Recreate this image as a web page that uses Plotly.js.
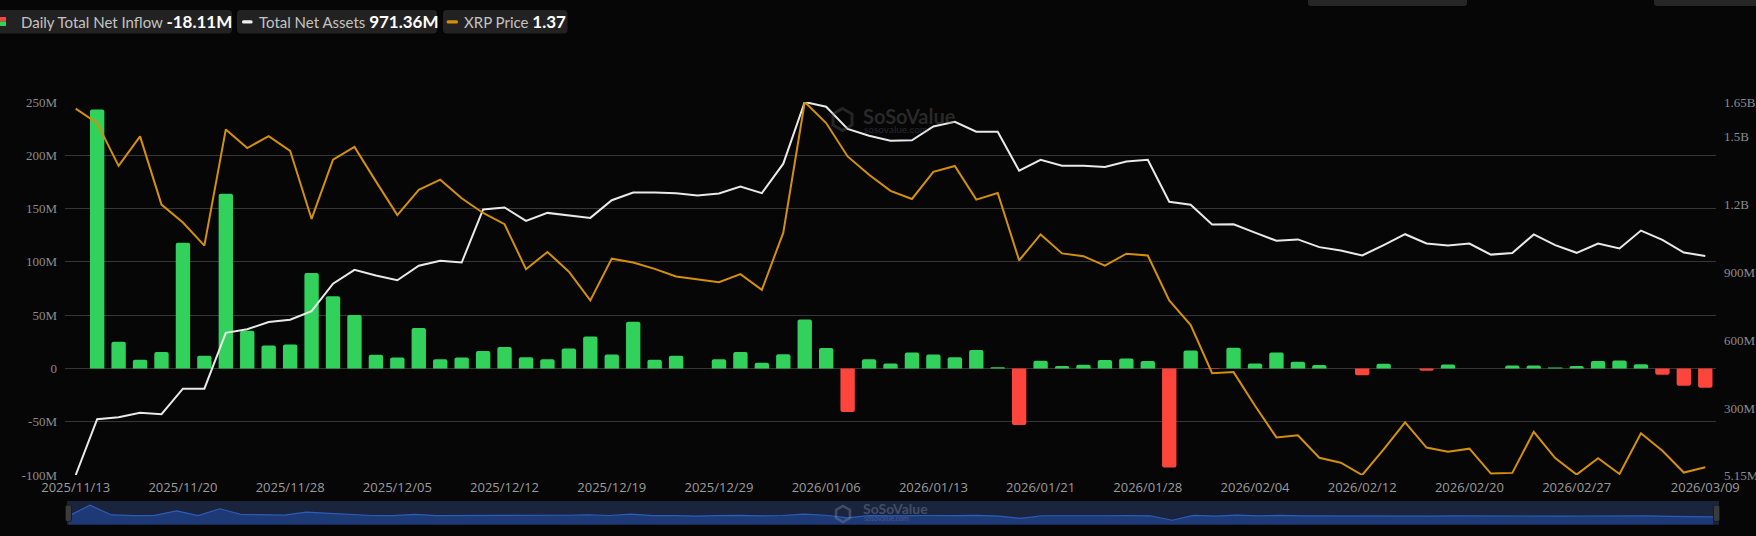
<!DOCTYPE html>
<html>
<head>
<meta charset="utf-8">
<script src="https://cdn.plot.ly/plotly-3.0.1.min.js"></script>
<style>
html,body{margin:0;padding:0;background:#060606;}
#chart{width:1756px;height:536px;}
</style>
</head>
<body>
<div id="chart"></div>
<script>
// ---------- DATA ----------
const dates = [
'2025/11/13','2025/11/14','2025/11/17','2025/11/18','2025/11/19','2025/11/20','2025/11/21','2025/11/24','2025/11/25','2025/11/26',
'2025/11/28','2025/12/01','2025/12/02','2025/12/03','2025/12/04','2025/12/05','2025/12/08','2025/12/09','2025/12/10','2025/12/11',
'2025/12/12','2025/12/15','2025/12/16','2025/12/17','2025/12/18','2025/12/19','2025/12/22','2025/12/23','2025/12/24','2025/12/26',
'2025/12/29','2025/12/30','2025/12/31','2026/01/02','2026/01/05','2026/01/06','2026/01/07','2026/01/08','2026/01/09','2026/01/12',
'2026/01/13','2026/01/14','2026/01/15','2026/01/16','2026/01/20','2026/01/21','2026/01/22','2026/01/23','2026/01/26','2026/01/27',
'2026/01/28','2026/01/29','2026/01/30','2026/02/02','2026/02/03','2026/02/04','2026/02/05','2026/02/06','2026/02/09','2026/02/10',
'2026/02/12','2026/02/13','2026/02/17','2026/02/18','2026/02/19','2026/02/20','2026/02/23','2026/02/24','2026/02/25','2026/02/26',
'2026/02/27','2026/03/02','2026/03/03','2026/03/04','2026/03/05','2026/03/06','2026/03/09'];

// Daily total net inflow (USD millions)
const netInflow = [
null,243,25.0,8.1,15.3,118,11.9,164,35.4,21.6,
22.5,89.6,67.7,50.1,12.8,10.3,37.9,8.7,10.3,16.3,
20.0,10.6,8.5,18.8,30.0,13.1,43.8,8.1,11.9,0,
8.5,15.3,5.3,13.4,46.0,19.1,-40.8,8.7,4.7,15.0,
13.1,10.6,17.2,1.2,-53.0,7.2,2.2,3.4,7.8,9.4,
6.9,-93.0,16.9,-0.5,19.4,4.7,15.0,6.2,3.1,0,
-6.3,4.4,0,-2.2,3.8,0,0,2.8,2.8,0.9,
2.2,6.9,7.5,4.0,-6.0,-16.3,-18.11];

// Total net assets (USD millions)
const netAssets = [
5.15,251,260,280,273,386,386,632,648,680,
690,728,849,910,885,864,928,950,942,1176,
1185,1126,1161,1151,1139,1217,1251,1251,1248,1238,
1247,1277,1248,1378,1650,1629,1531,1501,1479,1481,
1542,1563,1519,1519,1347,1395,1369,1369,1363,1388,
1395,1210,1197,1110,1111,1074,1038,1044,1010,995,
973,1019,1067,1026,1017,1026,977,984,1066,1019,
985,1026,1004,1083,1042,986,971.36];

// XRP price (USD)
const xrpPrice = [
2.391,2.350,2.228,2.312,2.118,2.067,2.001,2.332,2.279,2.313,
2.271,2.077,2.246,2.282,2.184,2.088,2.160,2.189,2.136,2.094,
2.062,1.934,1.983,1.927,1.845,1.964,1.953,1.935,1.913,1.904,
1.897,1.920,1.875,2.038,2.410,2.350,2.255,2.203,2.157,2.134,
2.211,2.228,2.132,2.151,1.959,2.033,1.979,1.971,1.944,1.978,
1.973,1.845,1.775,1.638,1.641,1.545,1.455,1.461,1.397,1.383,
1.348,1.421,1.498,1.426,1.414,1.423,1.352,1.354,1.471,1.396,
1.349,1.396,1.351,1.467,1.417,1.355,1.37];

const xTickVals = ['2025/11/13','2025/11/20','2025/11/28','2025/12/05','2025/12/12','2025/12/19','2025/12/29',
'2026/01/06','2026/01/13','2026/01/21','2026/01/28','2026/02/04','2026/02/12','2026/02/20','2026/02/27','2026/03/09'];
const leftTickVals = [-100,-50,0,50,100,150,200,250];
const leftTickText = ['-100M','-50M','0','50M','100M','150M','200M','250M'];
const rightTickVals = [5.15,300,600,900,1200,1500,1650];
const rightTickText = ['5.15M','300M','600M','900M','1.2B','1.5B','1.65B'];
const legendNames = ['Daily Total Net Inflow','Total Net Assets','XRP Price'];
const legendValues = ['-18.11M','971.36M','1.37'];

// ---------- STYLE / GEOMETRY ----------
const W = 1756, H = 536;
const L = 65, R = 1716, T = 102, B = 525;
const px = v => (v - L) / (R - L);
const py = v => (B - v) / (B - T);
const GREEN = '#31d15c', RED = '#fe453b', WHITE = '#e9e9e9', ORANGE = '#d4900b';

function rr(x0, y0, x1, y1, r) {
  const X = px, Y = py;
  return `M${X(x0+r)},${Y(y0)} L${X(x1-r)},${Y(y0)} Q${X(x1)},${Y(y0)} ${X(x1)},${Y(y0+r)} ` +
         `L${X(x1)},${Y(y1-r)} Q${X(x1)},${Y(y1)} ${X(x1-r)},${Y(y1)} L${X(x0+r)},${Y(y1)} ` +
         `Q${X(x0)},${Y(y1)} ${X(x0)},${Y(y1-r)} L${X(x0)},${Y(y0+r)} Q${X(x0)},${Y(y0)} ${X(x0+r)},${Y(y0)} Z`;
}
function hexPath(cx, cy, r) {
  let d = '';
  for (let i = 0; i < 6; i++) {
    const a = Math.PI / 180 * (60 * i - 90);
    d += (i ? ' L' : 'M') + px(cx + r * Math.cos(a)) + ',' + py(cy + r * Math.sin(a));
  }
  return d + ' Z';
}

const assetMin = Math.min(...netAssets), assetMax = Math.max(...netAssets);
const priceMin = Math.min(...xrpPrice), priceMax = Math.max(...xrpPrice);
const navMin = -193, navMax = 338;

const traces = [
  {
    type: 'bar', x: dates, y: netInflow, xaxis: 'x', yaxis: 'y',
    marker: { color: netInflow.map(v => (v !== null && v < 0) ? RED : GREEN), cornerradius: 2, line: { width: 0 } },
    hoverinfo: 'skip', showlegend: false
  },
  {
    type: 'scatter', mode: 'lines', x: dates, y: netAssets, xaxis: 'x', yaxis: 'y2',
    line: { color: WHITE, width: 2 }, hoverinfo: 'skip', showlegend: false
  },
  {
    type: 'scatter', mode: 'lines', x: dates, y: xrpPrice, xaxis: 'x', yaxis: 'y3',
    line: { color: ORANGE, width: 2 }, hoverinfo: 'skip', showlegend: false
  },
  {
    type: 'scatter', mode: 'lines', x: dates, y: dates.map(() => navMin), xaxis: 'x2', yaxis: 'y4',
    line: { width: 0, color: 'rgba(0,0,0,0)' }, hoverinfo: 'skip', showlegend: false
  },
  {
    type: 'scatter', mode: 'lines', x: dates, y: netInflow.map(v => v === null ? 0 : v), xaxis: 'x2', yaxis: 'y4',
    fill: 'tonexty', fillcolor: '#1e3a76', line: { color: '#2d5cb8', width: 1.2 },
    hoverinfo: 'skip', showlegend: false
  }
];

const tickFontSerif = { family: 'Liberation Serif, Times New Roman, serif', size: 13, color: '#8c8c8c' };

const shapes = [
  { type: 'rect', xref: 'paper', yref: 'paper', x0: px(67), x1: px(1719), y0: py(524.7), y1: py(501),
    fillcolor: '#1a253d', line: { width: 0 }, layer: 'below' },
  { type: 'path', xref: 'paper', yref: 'paper', path: rr(65.5, 505, 71.5, 521.5, 2),
    fillcolor: '#3b3b3b', line: { color: '#1a1a1a', width: 1 } },
  { type: 'path', xref: 'paper', yref: 'paper', path: rr(1713.5, 505, 1719.5, 521.5, 2),
    fillcolor: '#3b3b3b', line: { color: '#1a1a1a', width: 1 } },
  { type: 'path', xref: 'paper', yref: 'paper', path: rr(1308, -6, 1467, 6, 3),
    fillcolor: '#262626', line: { width: 0 } },
  { type: 'path', xref: 'paper', yref: 'paper', path: rr(1654, -6, 1762, 6, 3),
    fillcolor: '#262626', line: { width: 0 } },
  { type: 'path', xref: 'paper', yref: 'paper', path: rr(-10, 10, 232, 33.5, 4),
    fillcolor: '#222222', line: { width: 0 } },
  { type: 'path', xref: 'paper', yref: 'paper', path: rr(237, 10, 437, 33.5, 4),
    fillcolor: '#222222', line: { width: 0 } },
  { type: 'path', xref: 'paper', yref: 'paper', path: rr(443, 10, 567.5, 33.5, 4),
    fillcolor: '#222222', line: { width: 0 } },
  { type: 'rect', xref: 'paper', yref: 'paper', x0: px(0), x1: px(6), y0: py(21.5), y1: py(17),
    fillcolor: RED, line: { width: 0 } },
  { type: 'rect', xref: 'paper', yref: 'paper', x0: px(0), x1: px(6), y0: py(26), y1: py(21.5),
    fillcolor: GREEN, line: { width: 0 } },
  { type: 'path', xref: 'paper', yref: 'paper', path: rr(242, 20.2, 252.6, 23.4, 1.5),
    fillcolor: '#f0f0f0', line: { width: 0 } },
  { type: 'path', xref: 'paper', yref: 'paper', path: rr(446.6, 20.2, 458, 23.4, 1.5),
    fillcolor: ORANGE, line: { width: 0 } },
  { type: 'path', xref: 'paper', yref: 'paper', path: hexPath(842.5, 119.5, 11),
    fillcolor: 'rgba(0,0,0,0)', line: { color: 'rgba(110,110,110,0.3)', width: 3 } },
  { type: 'path', xref: 'paper', yref: 'paper', path: hexPath(843, 514, 8),
    fillcolor: 'rgba(0,0,0,0)', line: { color: 'rgba(140,150,175,0.35)', width: 2.5 } }
];

const annotations = [];
const legendPos = [19, 257, 462];
for (let i = 0; i < legendNames.length; i++) {
  annotations.push({
    xref: 'paper', yref: 'paper', x: px(legendPos[i]), y: py(22), xanchor: 'left', yanchor: 'middle',
    showarrow: false,
    text: legendNames[i] + ' <span style="font-size:17px;color:#ffffff"><b>' + legendValues[i] + '</b></span>',
    font: { family: 'Lato, sans-serif', size: 15, color: '#c4c4c4' }
  });
}
annotations.push(
  { xref: 'paper', yref: 'paper', x: px(861), y: py(115.5), xanchor: 'left', yanchor: 'middle', showarrow: false,
    text: '<b>SoSoValue</b>', font: { family: 'Lato, sans-serif', size: 20, color: 'rgba(110,110,110,0.35)' } },
  { xref: 'paper', yref: 'paper', x: px(862), y: py(128.5), xanchor: 'left', yanchor: 'middle', showarrow: false,
    text: 'sosovalue.com', font: { family: 'Lato, sans-serif', size: 10, color: 'rgba(110,110,110,0.35)' } },
  { xref: 'paper', yref: 'paper', x: px(861), y: py(508.5), xanchor: 'left', yanchor: 'middle', showarrow: false,
    text: '<b>SoSoValue</b>', font: { family: 'Lato, sans-serif', size: 14, color: 'rgba(150,158,180,0.35)' } },
  { xref: 'paper', yref: 'paper', x: px(862), y: py(517.5), xanchor: 'left', yanchor: 'middle', showarrow: false,
    text: 'sosovalue.com', font: { family: 'Lato, sans-serif', size: 7, color: 'rgba(150,158,180,0.35)' } }
);

const layout = {
  width: W, height: H,
  margin: { l: L, r: W - R, t: T, b: H - B, pad: 0 },
  paper_bgcolor: '#060606', plot_bgcolor: '#060606',
  bargap: 0.33,
  showlegend: false,
  xaxis: {
    type: 'category', anchor: 'y', domain: [0, 1], range: [-0.5, dates.length - 0.5],
    tickmode: 'array', tickvals: xTickVals, ticktext: xTickVals,
    tickfont: { family: 'Open Sans, sans-serif', size: 13, color: '#9b9b9b' },
    showgrid: false, zeroline: false, showline: false, ticks: '', tickangle: 0, fixedrange: true,
    ticklabelstandoff: 3
  },
  yaxis: {
    domain: [py(475), 1], range: [-100, 250],
    tickmode: 'array', tickvals: leftTickVals, ticktext: leftTickText,
    tickfont: tickFontSerif, gridcolor: '#363636', gridwidth: 1,
    zeroline: false, showline: false, ticks: '', ticklabelstandoff: 7
  },
  yaxis2: {
    overlaying: 'y', side: 'right', range: [assetMin, assetMax],
    tickmode: 'array', tickvals: rightTickVals, ticktext: rightTickText,
    tickfont: tickFontSerif, showgrid: false, zeroline: false, showline: false, ticks: '', ticklabelstandoff: 7
  },
  yaxis3: {
    overlaying: 'y', side: 'right', range: [priceMin, priceMax], visible: false
  },
  xaxis2: {
    type: 'category', anchor: 'y4', domain: [px(68.3), px(1713)], range: [0, dates.length - 1],
    visible: false
  },
  yaxis4: {
    anchor: 'x2', domain: [py(524.7), py(501)], range: [navMin, navMax], visible: false
  },
  shapes: shapes,
  annotations: annotations
};

Plotly.newPlot('chart', traces, layout, { staticPlot: true, displayModeBar: false });
</script>
</body>
</html>
